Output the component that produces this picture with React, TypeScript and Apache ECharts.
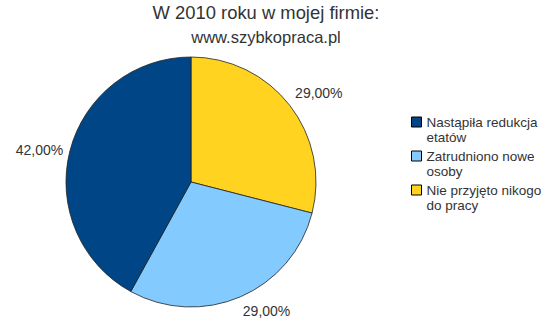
import React, { useEffect, useRef } from "react";
import * as echarts from "echarts";

const categories = ["Nie przyjęto nikogo do pracy", "Zatrudniono nowe osoby", "Nastąpiła redukcja etatów"];
const values = [29, 29, 42];
const colors = ["#ffd320", "#83caff", "#004586"];
const legendOrder = ["Nastąpiła redukcja etatów", "Zatrudniono nowe osoby", "Nie przyjęto nikogo do pracy"];
const legendLabels: Record<string, string> = {
  "Nastąpiła redukcja etatów": "Nastąpiła redukcja\netatów",
  "Zatrudniono nowe osoby": "Zatrudniono nowe\nosoby",
  "Nie przyjęto nikogo do pracy": "Nie przyjęto nikogo\ndo pracy",
};
const titleText = "W 2010 roku w mojej firmie:";
const subtitleText = "www.szybkopraca.pl";

export default function App() {
  const ref = useRef<HTMLDivElement>(null);
  useEffect(() => {
    document.body.style.margin = "0";
    const chart = echarts.init(ref.current!, null, { renderer: "svg" });
    const font = "Liberation Sans, Arial, sans-serif";
    const lh = 15.5;
    const labelOffsets: number[][] = [[-6, -7], [-6, 7], [6, 1]];
    chart.setOption({
      animation: false,
      textStyle: { fontFamily: font },
      title: [
        {
          text: titleText,
          left: 261,
          top: -2,
          textAlign: "center",
          textStyle: { fontSize: 18.4, fontWeight: "normal", color: "#333", fontFamily: font },
        },
        {
          text: subtitleText,
          left: 261,
          top: 23,
          textAlign: "center",
          textStyle: { fontSize: 16.5, fontWeight: "normal", color: "#333", fontFamily: font },
        },
      ],
      legend: {
        orient: "vertical",
        left: 411,
        top: 117 - 1.5 * lh + 5,
        padding: 0,
        data: legendOrder,
        icon: "rect",
        itemWidth: 10,
        itemHeight: 10,
        itemGap: 34 - 3 * lh,
        formatter: (n: string) => "\n" + (legendLabels[n] ?? n),
        textStyle: {
          fontSize: 13.5,
          color: "#333",
          lineHeight: lh,
          fontFamily: font,
        },
        itemStyle: { borderColor: "#000", borderWidth: 1 },
      },
      series: [
        {
          type: "pie",
          center: [191, 182],
          radius: 125,
          startAngle: 90,
          clockwise: true,
          data: categories.map((c, i) => ({
            name: c,
            value: values[i],
            itemStyle: { color: colors[i] },
            label: { offset: labelOffsets[i] },
          })),
          itemStyle: { borderColor: "#222", borderWidth: 0.8 },
          label: {
            show: true,
            position: "outside",
            overflow: "none",
            formatter: (p: any) => p.value.toFixed(2).replace(".", ",") + "%",
            fontSize: 14,
            color: "#333",
            fontFamily: font,
          },
          labelLine: { show: false, length: 8, length2: 0 },
          emphasis: { disabled: true },
        },
      ],
    });
    return () => chart.dispose();
  }, []);
  return <div ref={ref} style={{ width: 549, height: 321 }} />;
}
